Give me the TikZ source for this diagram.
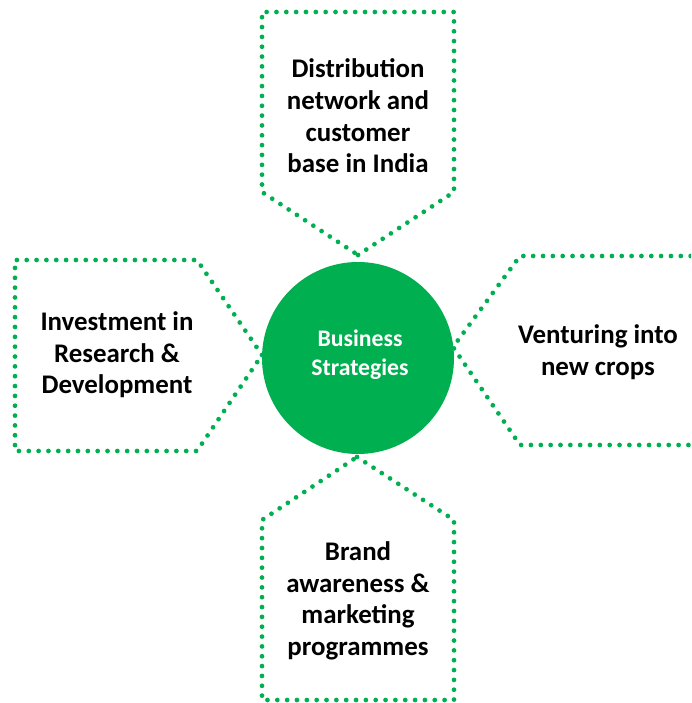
\documentclass[tikz,border=0pt]{standalone}
\usepackage{fontspec}
\setmainfont{Carlito}
\usepackage{tikz}
\usetikzlibrary{positioning}

\definecolor{offgreen}{HTML}{00B050}

\begin{document}
\begin{tikzpicture}[
  dotline/.style={offgreen,line width=2.7pt,line cap=round,dash pattern=on 0pt off 5.6pt},
  boxtext/.style={font=\fontsize{15.3}{18}\selectfont\bfseries,align=center,text=black},
  coretext/.style={font=\fontsize{13.5}{16.5}\selectfont\bfseries,align=center,text=white},
]

% ===================================================================
% Page frame
% ===================================================================
\useasboundingbox (0,0) rectangle (13.82,14.06);
\clip (0,0) rectangle (13.82,14.06);

% ===================================================================
% Centre disc
% ===================================================================
\fill[offgreen] (7.16,6.90) circle (1.92);
\node[coretext] (core) at (7.20,6.96) {Business\\Strategies};

% ===================================================================
% Dotted pentagon outlines (tips point at the disc)
% ===================================================================
% top
\draw[dotline] (7.16,8.96) -- (9.08,10.22) -- (9.08,13.82) -- (5.24,13.82) -- (5.24,10.22) -- cycle;
% left
\draw[dotline] (5.24,6.96) -- (3.94,8.86) -- (0.30,8.86) -- (0.30,5.04) -- (3.94,5.04) -- cycle;
% right (runs off the page)
\draw[dotline] (14.60,8.94) -- (10.40,8.94) -- (9.06,7.12) -- (10.40,5.16) -- (14.60,5.16);
% bottom
\draw[dotline] (7.14,4.92) -- (9.08,3.66) -- (9.08,0.06) -- (5.24,0.06) -- (5.24,3.66) -- cycle;

% ===================================================================
% Box texts
% ===================================================================
\node[boxtext] (dist)    at (7.16,11.74) {Distribution\\network and\\customer\\base in India};
\node[boxtext] (invest)  at (2.34,6.96)  {Investment in\\Research \&\\Development};
\node[boxtext] (venture) at (11.96,7.02) {Venturing into\\new crops};
\node[boxtext] (brand)   at (7.16,2.04)  {Brand\\awareness \&\\marketing\\programmes};

\end{tikzpicture}
\end{document}
